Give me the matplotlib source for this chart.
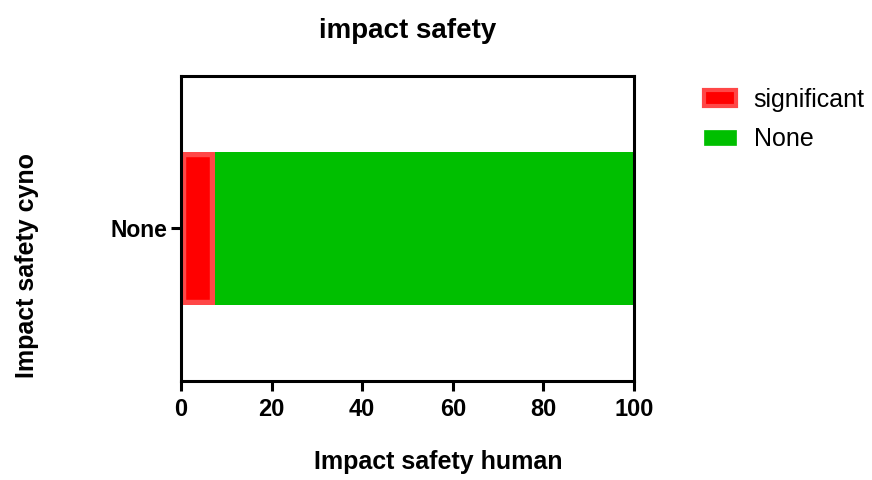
import matplotlib.pyplot as plt
from matplotlib.patches import Patch

categories = ['None']
significant = [7.5]
none_vals = [92.5]
legend_labels = ['significant', 'None']
xticks = [0, 20, 40, 60, 80, 100]

plt.rcParams['font.family'] = ['Arial', 'Liberation Sans', 'DejaVu Sans']

fig = plt.figure(figsize=(8.72, 4.8), dpi=100)
ax = fig.add_axes([181/872, 1 - 381/480, 453/872, 305/480])

ypos = [0]
red_bars = ax.barh(ypos, significant, height=1.0, color='#ff0000', edgecolor='#ff4747',
                   linewidth=7.5, zorder=2)
# keep the lighter outline inside the bar
for b in red_bars:
    b.set_clip_path(b)
ax.barh(ypos, none_vals, left=significant, height=1.0, color='#00bf00',
        edgecolor='none', zorder=1)

ax.set_xlim(0, 100)
ax.set_ylim(-1, 1)
ax.set_xticks(xticks)
ax.set_xticklabels([str(t) for t in xticks], fontsize=17, fontweight='bold')
ax.set_yticks(ypos)
ax.set_yticklabels(categories, fontsize=16.5, fontweight='bold')
ax.invert_yaxis()

for s in ax.spines.values():
    s.set_linewidth(2.2)
ax.tick_params(axis='both', width=2.2, length=7, direction='out', pad=5)
ax.tick_params(axis='y', pad=3)

ax.set_title('impact safety', fontsize=20, fontweight='bold', pad=27)
ax.set_xlabel('Impact safety human', fontsize=18, fontweight='bold')
ax.set_ylabel('Impact safety cyno', fontsize=18, fontweight='bold')
ax.xaxis.set_label_coords(0.567, -0.225)
ax.yaxis.set_label_coords(-0.313, 0.38)

handles = [Patch(facecolor='#ff0000', edgecolor='#ff4747', linewidth=3),
           Patch(facecolor='#00bf00', edgecolor='#00bf00', linewidth=0.5)]
ax.legend(handles, legend_labels, loc='upper left', bbox_to_anchor=(1.105, 1.035),
          frameon=False, fontsize=18, handlelength=1.28, handleheight=0.6,
          labelspacing=0.62, handletextpad=0.7)

fig.savefig('out.png', dpi=100)
